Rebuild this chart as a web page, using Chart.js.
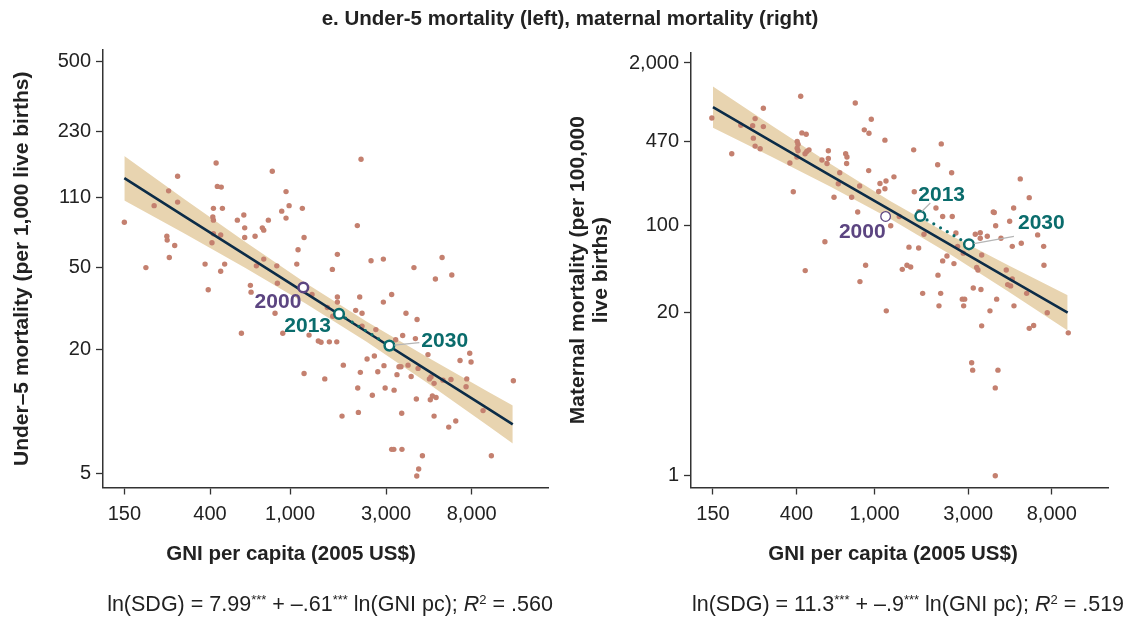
<!DOCTYPE html>
<html lang="en">
<head>
<meta charset="UTF-8">
<title>Under-5 and maternal mortality by GNI per capita</title>
<script src="https://cdn.jsdelivr.net/npm/chart.js@4"></script>
<style>
  body { margin:0; width:1140px; height:619px; position:relative; background:#fff; overflow:hidden;
         font-family:"Liberation Sans", Arial, sans-serif; color:#222; }
  canvas { position:absolute; top:0; }
  #u5Chart { left:0; }
  #mmChart { left:560px; }
  .txt { position:absolute; text-align:center; white-space:nowrap; }
  .title { top:6px; left:0; width:1140px; font-weight:bold; font-size:20.5px; }
  .xt { top:541px; width:400px; font-weight:bold; font-size:20.5px; }
  .eq { top:592px; width:600px; font-size:21.5px; }
  .eq sup { font-size:13px; vertical-align:7px; line-height:0; }
</style>
</head>
<body>
<canvas id="u5Chart" width="560" height="619"></canvas>
<canvas id="mmChart" width="580" height="619"></canvas>
<div class="txt title">e. Under-5 mortality (left), maternal mortality (right)</div>
<div class="txt xt" style="left:91px">GNI per capita (2005 US$)</div>
<div class="txt xt" style="left:693px">GNI per capita (2005 US$)</div>
<div class="txt eq" style="left:30px">ln(SDG) = 7.99<sup>***</sup> + –.61<sup>***</sup> ln(GNI pc); <i>R</i><sup>2</sup> = .560</div>
<div class="txt eq" style="left:608px">ln(SDG) = 11.3<sup>***</sup> + –.9<sup>***</sup> ln(GNI pc); <i>R</i><sup>2</sup> = .519</div>

<script>
    // tick labels
    const gniTicks = [150, 400, 1000, 3000, 8000];
    const u5Ticks = [5, 20, 50, 110, 230, 500];
    const mmTicks = [1, 20, 100, 470, 2000];

    // under-5 mortality, one point per country
    const u5Gni = [150, 192, 211, 249, 276, 276, 244, 245, 267, 251, 429, 435, 455, 416, 461, 413, 416, 416, 452, 409,
        378, 473, 452, 392, 547, 589, 595, 595, 670, 728, 740, 780, 816, 909, 955, 989, 955, 1151, 1174, 1096,
        1080, 740, 680, 859, 865, 635, 640, 842, 1286, 2254, 2160, 1719, 1623, 2527, 2910, 5700, 4130, 6370, 5280, 1719,
        1719, 2220, 3200, 2910, 2120, 2280, 1533, 3770, 573, 920, 1243, 1382, 1426, 1174, 1488, 4280, 1630, 2280, 2670, 3630,
        3350, 4200, 1568, 1707, 4850, 7820, 7000, 7940, 2415, 2625, 1840, 2236, 2730, 2930, 3480, 3560, 3860, 4330, 3400, 4000,
        4930, 5020, 5200, 5760, 6310, 7560, 7500, 12890, 2170, 2970, 3290, 2565, 4245, 4980, 5100, 5320, 1813, 2186, 3590, 5200,
        6665, 6150, 9110, 3200, 3280, 3600, 4550, 10020, 4360, 4265];
    const u5Rate = [83, 50, 100, 118, 139, 104, 71, 68, 64, 56, 161, 124, 123, 97, 97, 88, 85, 73, 72, 66,
        52, 52, 48, 39, 85, 90, 78, 70, 71, 78, 76, 85, 147, 94, 117, 100, 87, 97, 70, 61,
        52, 55, 51, 51, 42, 41, 38, 30, 37, 168, 80, 58, 49, 54, 55, 56, 50, 46, 44, 36,
        34, 36, 37, 34, 31, 30, 32, 30, 24, 24, 23.5, 22, 21.7, 15.3, 14.4, 28, 29, 26, 25, 23.4,
        22.3, 22.6, 21.8, 21.8, 18.9, 19.2, 17.7, 17.4, 18, 18.6, 16.8, 15.5, 15.6, 16.7, 16.5, 16.5, 16.8, 16.2, 15.1, 14.8,
        14.4, 14.7, 13.7, 14.2, 14.3, 14.4, 13.2, 14.1, 13, 13, 12.7, 12, 11.5, 11.4, 11.9, 11.7, 9.5, 9.9, 9.8, 9.5,
        9.0, 8.4, 10.1, 6.55, 6.55, 6.55, 6.1, 6.1, 5.26, 4.86];

    // under-5 fitted line and confidence band
    const u5FitGni = [150, 300, 600, 1200, 2400, 4800, 9600, 12800];
    const u5Fit = [136, 88.4, 57.6, 37.5, 24.4, 15.9, 10.35, 8.67];
    const u5Upper = [174, 107, 66.6, 42, 27.4, 18.4, 12.5, 10.7];
    const u5Lower = [106, 73, 49.8, 33.4, 21.8, 13.8, 8.55, 7.0];

    // maternal mortality, one point per country
    const mmGni = [148, 187, 208, 239, 241, 246, 246, 271, 271, 261, 420, 426, 448, 403, 407, 403, 407, 463, 451, 442,
        402, 370, 385, 443, 558, 581, 581, 539, 572, 712, 723, 720, 664, 653, 621, 797, 962, 886, 936, 933,
        839, 764, 820, 1129, 1255, 1143, 1065, 1129, 1049, 1208, 900, 1384, 1336, 2187, 1582, 2096, 2470, 1593, 5527, 6142,
        2055, 1683, 2223, 2488, 4026, 4074, 5115, 4142, 4881, 1785, 2598, 3260, 3456, 3456, 3753, 4407, 6779, 5593, 5032, 7275,
        1497, 1677, 2650, 2832, 3514, 2338, 2223, 2538, 1462, 1527, 2104, 3313, 3364, 4689, 7300, 842, 1758, 2172, 2129, 1147,
        2799, 2878, 2844, 3184, 3484, 4190, 3873, 3514, 4767, 4938, 5032, 5958, 5134, 7588, 6142, 6468, 9710, 3124, 3162, 4254,
        4122, 4122];
    const mmRate = [726, 375, 635, 630, 500, 432, 717, 868, 619, 411, 1083, 551, 538, 470, 448, 416, 396, 403, 391, 375,
        353, 316, 186, 43.5, 74, 396, 344, 334, 313, 375, 353, 313, 264, 216, 168, 957, 709, 583, 548, 275,
        207, 168, 128, 482, 245, 227, 217, 197, 187, 99.5, 48, 44.5, 118, 450, 403, 306, 264, 186, 236, 167,
        138, 129, 118, 118, 128, 127, 138, 99.5, 108, 85, 87, 85, 87.5, 79, 82, 79, 84, 72, 68, 68,
        67, 66, 68, 60, 58, 57, 52, 49.5, 48, 46.5, 40, 46, 44, 44, 48, 35.5, 28.6, 28.6, 22.7, 20.7,
        25.7, 25.7, 22.7, 31.6, 30.7, 25.7, 20.7, 15.7, 33.6, 32.8, 37.3, 28.6, 22.7, 20, 15, 15.8, 13.8, 7.96, 6.94, 6.94,
        5, 0.99];

    // maternal fitted line and confidence band
    const mmFitGni = [150, 300, 600, 1200, 2400, 4800, 9640];
    const mmFit = [885, 470, 250, 133, 70.8, 37.7, 20];
    const mmUpper = [1294, 628, 309, 157, 84.5, 47.9, 27.6];
    const mmLower = [605, 353, 203, 113, 59.4, 29.6, 14.4];

    // 2000, 2013 and projected 2030 positions
    const years = ['2000', '2013', '2030'];
    const u5YearGni = [1164, 1752, 3117];
    const u5YearRate = [40, 29.8, 20.9];
    const mmYearGni = [1138, 1710, 3027];
    const mmYearRate = [118, 119, 70.6];

    const DOT = '#c4806f', BAND = '#e8d4b0', NAVY = '#0c2c47', PURPLE = '#5c4581', TEAL = '#0a6c6c';
    const FONT = '"Liberation Sans", Arial, sans-serif';
    Chart.defaults.font.family = FONT;
    Chart.defaults.color = '#222';

    const zip = (xs, ys) => xs.map((x, i) => ({x: x, y: ys[i]}));
    const fmt = v => Number(v).toLocaleString('en-US');

    const yearLabels = {
        id: 'yearLabels',
        afterDatasetsDraw(chart, args, opts) {
            const ctx = chart.ctx, xs = chart.scales.x, ys = chart.scales.y;
            ctx.save();
            ctx.font = 'bold 21px ' + FONT;
            ctx.textBaseline = 'middle';
            opts.items.forEach(it => {
                const px = xs.getPixelForValue(it.gni), py = ys.getPixelForValue(it.rate);
                if (it.leader) {
                    ctx.strokeStyle = '#b5b5b5';
                    ctx.lineWidth = 1.2;
                    ctx.beginPath();
                    ctx.moveTo(px + it.leader[0], py + it.leader[1]);
                    ctx.lineTo(px + it.leader[2], py + it.leader[3]);
                    ctx.stroke();
                }
                ctx.fillStyle = it.color;
                ctx.textAlign = it.align;
                ctx.fillText(it.text, px + it.dx, py + it.dy);
            });
            ctx.restore();
        }
    };

    function makeChart(id, o) {
        const yearPts = zip(o.yearGni, o.yearRate);
        return new Chart(document.getElementById(id), {
            type: 'scatter',
            data: {
                datasets: [
                    { data: yearPts, pointRadius: 4.8, pointHoverRadius: 4.8, pointBackgroundColor: '#fff',
                      pointBorderColor: [PURPLE, TEAL, TEAL], pointBorderWidth: o.ringWidths, order: 0 },
                    { data: yearPts.slice(1), showLine: true, borderColor: TEAL, borderWidth: 3.2,
                      borderDash: [0, 7.8], borderCapStyle: 'round', pointRadius: 0, order: 1 },
                    { data: zip(o.fitGni, o.fit), showLine: true, borderColor: NAVY, borderWidth: 2.6,
                      pointRadius: 0, order: 2 },
                    { data: zip(o.gni, o.rate), pointRadius: 2.7, pointBackgroundColor: DOT,
                      pointBorderWidth: 0, order: 3 },
                    { data: zip(o.fitGni, o.upper), showLine: true, borderColor: 'rgba(0,0,0,0)', borderWidth: 0,
                      pointRadius: 0, fill: '+1', backgroundColor: BAND, order: 4 },
                    { data: zip(o.fitGni, o.lower), showLine: true, borderColor: 'rgba(0,0,0,0)', borderWidth: 0,
                      pointRadius: 0, order: 5 }
                ]
            },
            options: {
                responsive: false,
                animation: false,
                layout: { padding: { left: 0, right: o.padRight, top: o.padTop, bottom: 0 } },
                plugins: {
                    legend: { display: false },
                    tooltip: { enabled: false },
                    yearLabels: { items: o.labels }
                },
                scales: {
                    x: {
                        type: 'logarithmic', min: o.xMin, max: o.xMax,
                        afterBuildTicks: s => { s.ticks = gniTicks.map(v => ({value: v})); },
                        afterFit: s => { s.height = 131.5; },
                        grid: { drawOnChartArea: false, drawTicks: true, tickLength: 7, tickColor: '#333', tickWidth: 1.3 },
                        border: { display: true, color: '#333', width: 1.5 },
                        ticks: { font: { size: 20 }, color: '#222', padding: 8, autoSkip: false, maxRotation: 0,
                                 callback: v => fmt(v) }
                    },
                    y: {
                        type: 'logarithmic', min: o.yMin, max: o.yMax,
                        afterBuildTicks: s => { s.ticks = o.yTicks.map(v => ({value: v})); },
                        afterFit: s => { s.width = o.yWidth; },
                        grid: { drawOnChartArea: false, drawTicks: true, tickLength: 7, tickColor: '#333', tickWidth: 1.3 },
                        border: { display: true, color: '#333', width: 1.5 },
                        ticks: { font: { size: 20 }, color: '#222', padding: 5, autoSkip: false,
                                 callback: v => fmt(v) },
                        title: { display: true, text: o.yTitle, color: '#222',
                                 font: { size: 21, weight: 'bold', lineHeight: 1.1 },
                                 padding: { top: o.titlePad, bottom: 0 } }
                    }
                }
            },
            plugins: [yearLabels]
        });
    }

    makeChart('u5Chart', {
        gni: u5Gni, rate: u5Rate, fitGni: u5FitGni, fit: u5Fit, upper: u5Upper, lower: u5Lower,
        yearGni: u5YearGni, yearRate: u5YearRate, ringWidths: [2.5, 2.5, 2.5],
        xMin: 117.5, xMax: 19160, yMin: 4.275, yMax: 570, yTicks: u5Ticks,
        yWidth: 103, padRight: 12, padTop: 50, titlePad: 11,
        yTitle: 'Under–5 mortality (per 1,000 live births)',
        labels: [
            { text: years[0], gni: u5YearGni[0], rate: u5YearRate[0], color: PURPLE, align: 'right', dx: -2, dy: 15 },
            { text: years[1], gni: u5YearGni[1], rate: u5YearRate[1], color: TEAL, align: 'right', dx: -8, dy: 12 },
            { text: years[2], gni: u5YearGni[2], rate: u5YearRate[2], color: TEAL, align: 'left', dx: 32, dy: -4,
              leader: [5, -0.5, 30, -3] }
        ]
    });

    makeChart('mmChart', {
        gni: mmGni, rate: mmRate, fitGni: mmFitGni, fit: mmFit, upper: mmUpper, lower: mmLower,
        yearGni: mmYearGni, yearRate: mmYearRate, ringWidths: [1.3, 2.5, 2.5],
        xMin: 115.9, xMax: 15480, yMin: 0.797, yMax: 2418, yTicks: mmTicks,
        yWidth: 131, padRight: 32, padTop: 52.7, titlePad: 6.5,
        yTitle: ['Maternal mortality (per 100,000', 'live births)'],
        labels: [
            { text: years[0], gni: mmYearGni[0], rate: mmYearRate[0], color: PURPLE, align: 'right', dx: 0, dy: 16 },
            { text: years[1], gni: mmYearGni[1], rate: mmYearRate[1], color: TEAL, align: 'left', dx: -2, dy: -21,
              leader: [1.5, -4.5, 10, -13] },
            { text: years[2], gni: mmYearGni[2], rate: mmYearRate[2], color: TEAL, align: 'left', dx: 49, dy: -21,
              leader: [5, -0.7, 45, -8] }
        ]
    });
</script>
</body>
</html>
